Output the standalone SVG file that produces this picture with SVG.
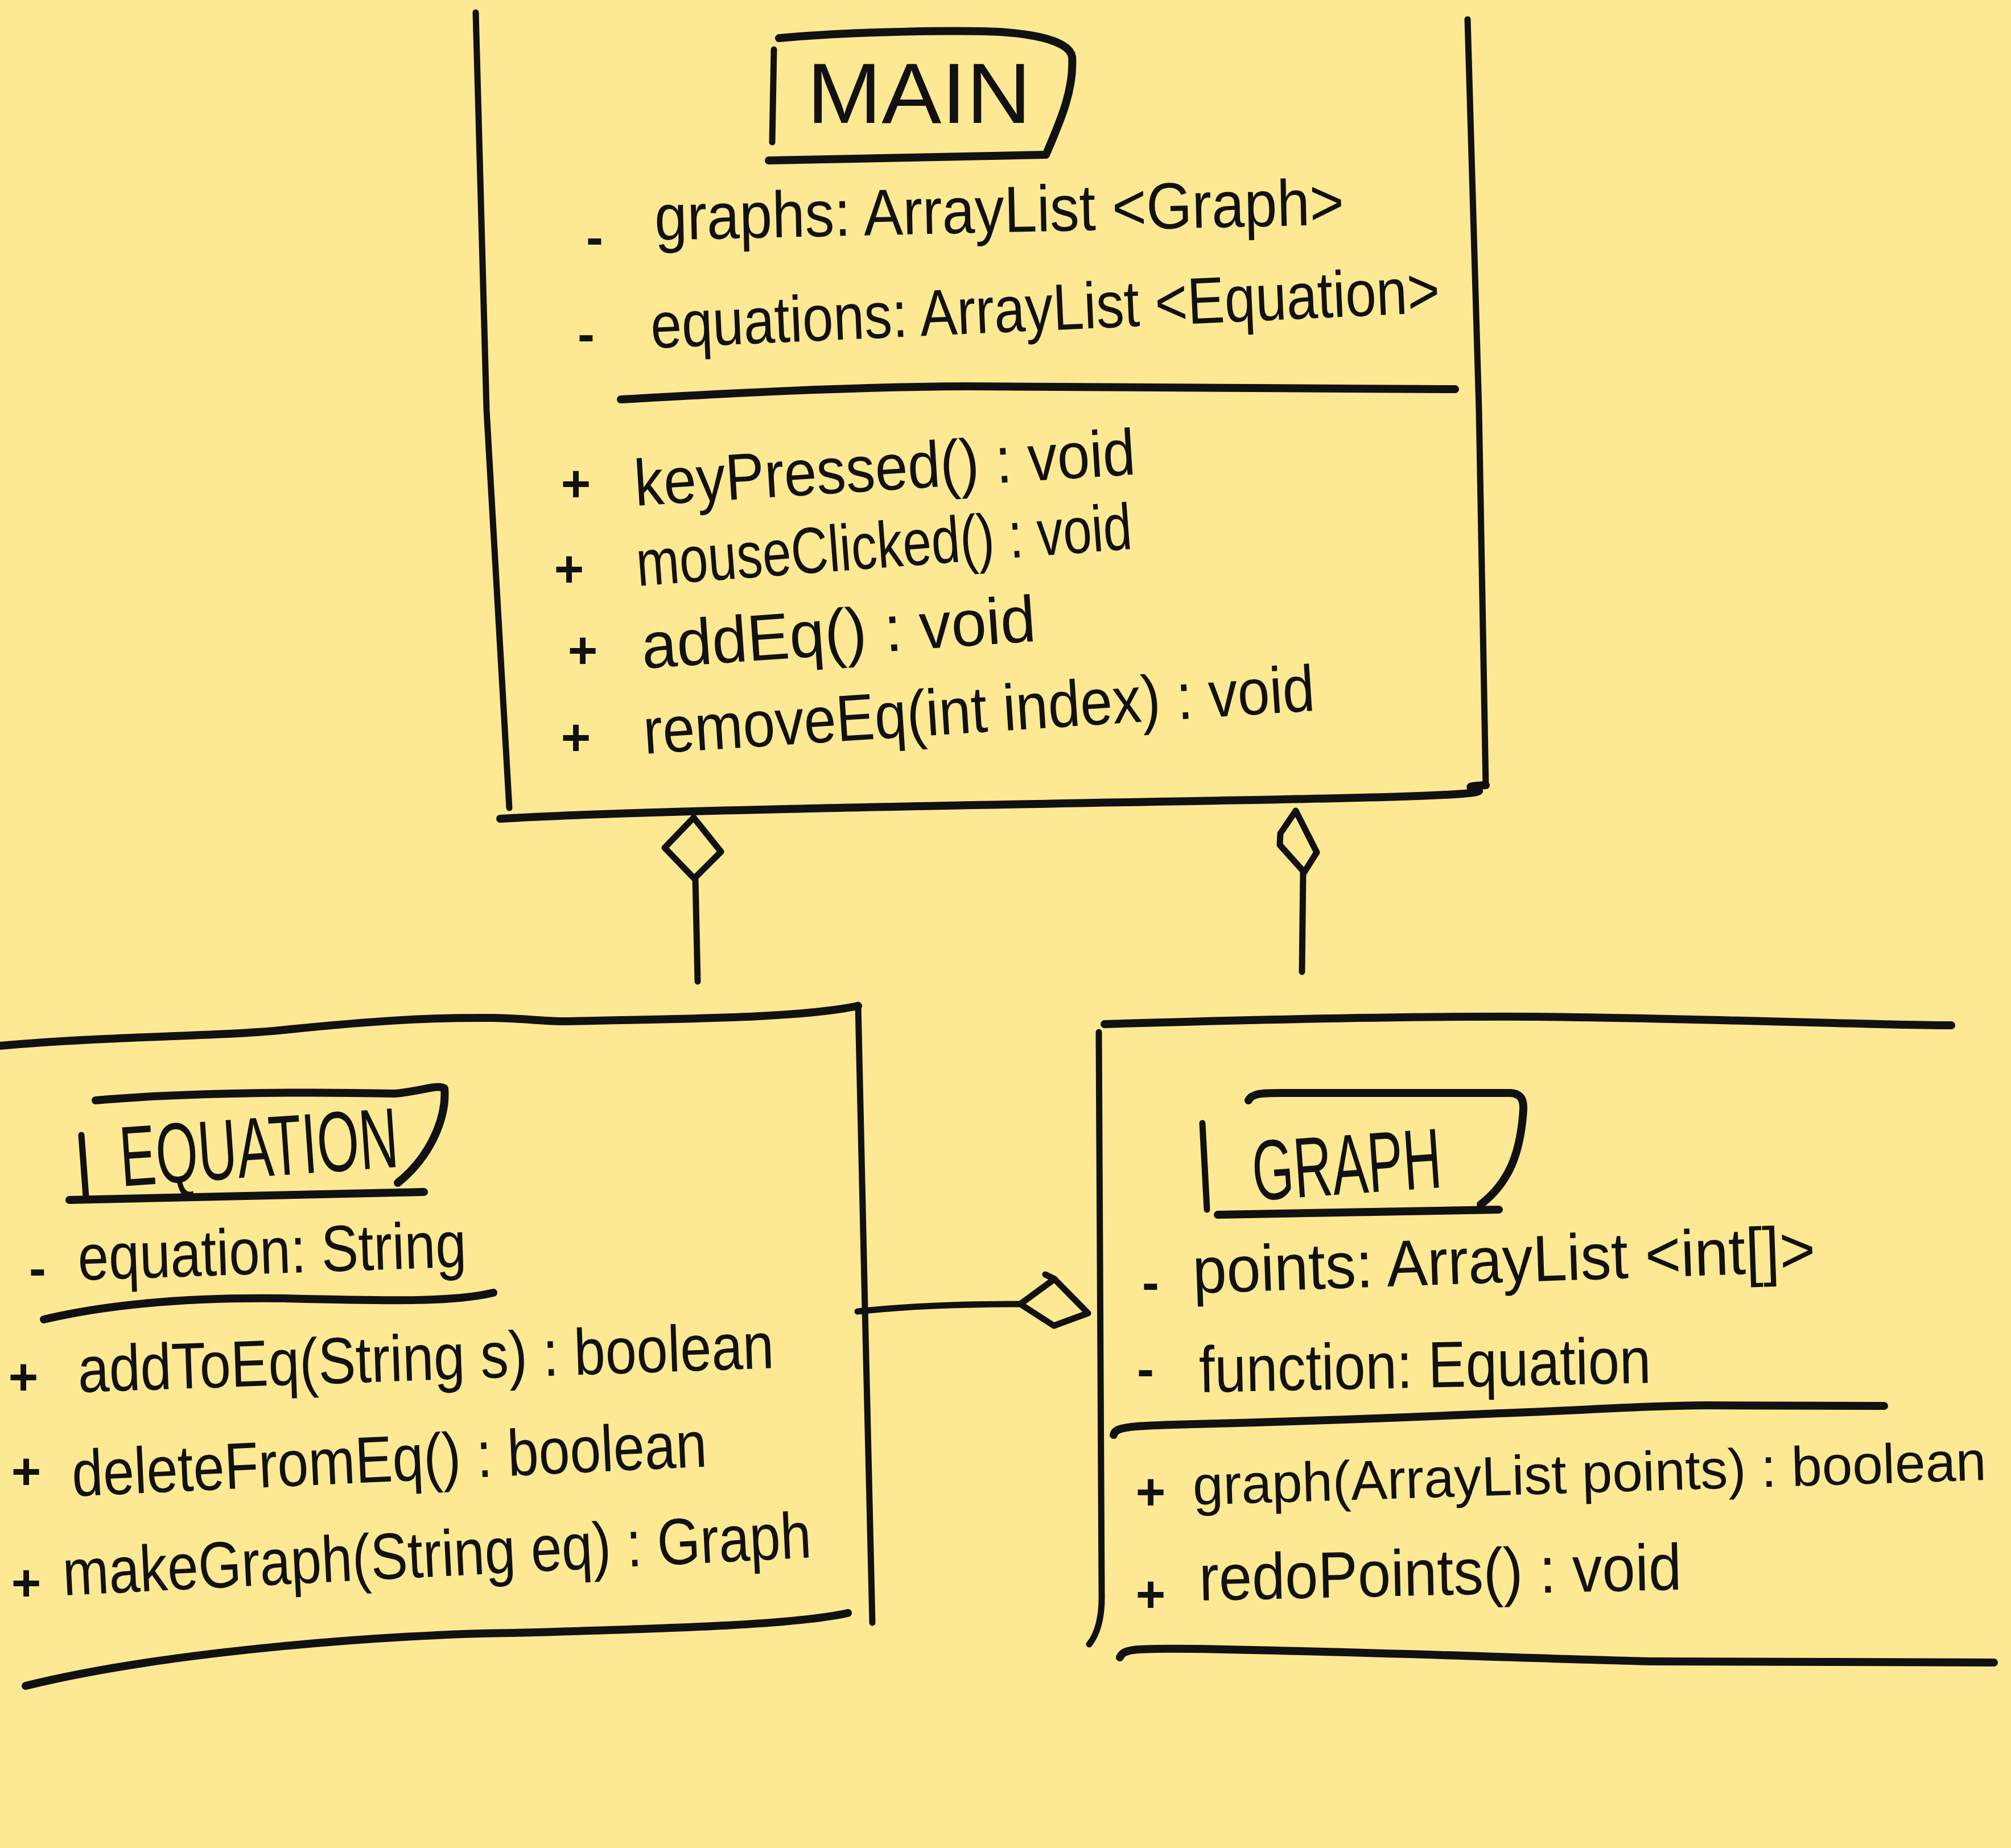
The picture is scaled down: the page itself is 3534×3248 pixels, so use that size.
<svg xmlns="http://www.w3.org/2000/svg" width="3534" height="3248" viewBox="0 0 3534 3248">
<style>
.ln{fill:none;stroke:#111;stroke-width:11;stroke-linecap:round;stroke-linejoin:round}
.tk{fill:none;stroke:#111;stroke-width:14;stroke-linecap:round;stroke-linejoin:round}
.dm{fill:none;stroke:#111;stroke-width:11;stroke-linecap:round;stroke-linejoin:round}
.t{font-family:"Liberation Sans",Arial,sans-serif;fill:#111;font-size:115px}
.ti{font-family:"Liberation Sans",Arial,sans-serif;fill:#111;font-size:150px}
.mk{font-family:"Liberation Sans",Arial,sans-serif;fill:#111;font-size:90px;text-anchor:middle;font-weight:bold}
</style>
<rect x="0" y="0" width="3534" height="3248" fill="#FDE993"/>

<g id="main">
  <path class="ln" d="M836,22 L855,720 L895,1420"/>
  <path class="ln" d="M2579,34 L2599,720 L2611,1381"/>
  <path class="tk" d="M879,1439 C1100,1425 1700,1415 2254,1405 S2500,1385 2611,1380"/>
  <path class="ln" d="M1360,87 L1357,250"/>
  <path class="tk" d="M1369,67 C1500,55 1700,52 1769,57 C1830,62 1880,75 1884,100 C1888,160 1860,220 1838,272"/>
  <path class="tk" d="M1351,282 L1836,272"/>
  <text class="ti" x="1418" y="216" textLength="394" lengthAdjust="spacingAndGlyphs">MAIN</text>
  <text class="mk" x="1045" y="448">-</text>
  <text class="t" x="1151" y="422" textLength="1212" lengthAdjust="spacingAndGlyphs" transform="rotate(-1.3 1151 422)">graphs: ArrayList &lt;Graph&gt;</text>
  <text class="mk" x="1030" y="618">-</text>
  <text class="t" x="1145" y="612" textLength="1388" lengthAdjust="spacingAndGlyphs" transform="rotate(-2.6 1145 612)">equations: ArrayList &lt;Equation&gt;</text>
  <path class="tk" d="M1091,702 C1300,690 1500,680 1700,679 C2000,680 2300,684 2557,684"/>
  <text class="mk" x="1012" y="881">+</text>
  <text class="t" x="1117" y="889" textLength="882" lengthAdjust="spacingAndGlyphs" transform="rotate(-3.6 1117 889)">keyPressed() : void</text>
  <text class="mk" x="1000" y="1031">+</text>
  <text class="t" x="1121" y="1030" textLength="873" lengthAdjust="spacingAndGlyphs" transform="rotate(-4.3 1121 1030)">mouseClicked() : void</text>
  <text class="mk" x="1024" y="1174">+</text>
  <text class="t" x="1130" y="1175" textLength="694" lengthAdjust="spacingAndGlyphs" transform="rotate(-4 1130 1175)">addEq() : void</text>
  <text class="mk" x="1012" y="1327">+</text>
  <text class="t" x="1133" y="1325" textLength="1182" lengthAdjust="spacingAndGlyphs" transform="rotate(-3.7 1133 1325)">removeEq(int index) : void</text>
</g>

<g id="equation">
  <path class="tk" d="M0,1838 C200,1820 400,1822 510,1809 C650,1795 750,1788 867,1789 C930,1790 960,1796 1000,1795 C1200,1790 1400,1790 1508,1768"/>
  <path class="ln" d="M1508,1766 L1520,2300 L1533,2852"/>
  <path class="tk" d="M45,2963 C300,2900 700,2872 900,2870 C1200,2862 1400,2855 1490,2835"/>
  <path class="ln" d="M143,1995 L151,2103"/>
  <path class="tk" d="M168,1934 C300,1922 500,1918 694,1922 C740,1918 770,1905 781,1913 C785,1960 760,2030 699,2079"/>
  <path class="tk" d="M122,2109 L745,2095"/>
  <text class="ti" x="214" y="2085" textLength="490" lengthAdjust="spacingAndGlyphs" transform="rotate(-4 214 2085)">EQUATION</text>
  <text class="mk" x="66" y="2260">-</text>
  <text class="t" x="138" y="2250" textLength="683" lengthAdjust="spacingAndGlyphs" transform="rotate(-2 138 2250)">equation: String</text>
  <path class="tk" d="M77,2319 C200,2290 350,2280 500,2282 C700,2287 800,2288 867,2272"/>
  <text class="mk" x="41" y="2451">+</text>
  <text class="t" x="138" y="2447" textLength="1224" lengthAdjust="spacingAndGlyphs" transform="rotate(-2 138 2447)">addToEq(String s) : boolean</text>
  <text class="mk" x="46" y="2617">+</text>
  <text class="t" x="128" y="2630" textLength="1117" lengthAdjust="spacingAndGlyphs" transform="rotate(-2.7 128 2630)">deleteFromEq() : boolean</text>
  <text class="mk" x="46" y="2813">+</text>
  <text class="t" x="112" y="2804" textLength="1317" lengthAdjust="spacingAndGlyphs" transform="rotate(-2.9 112 2804)">makeGraph(String eq) : Graph</text>
</g>

<g id="graph">
  <path class="tk" d="M1941,1800 C2200,1792 2500,1786 2700,1787 C3000,1790 3300,1802 3429,1802"/>
  <path class="ln" d="M1931,1814 L1936,2800 C1937,2840 1930,2870 1914,2890"/>
  <path class="ln" d="M2113,1974 L2121,2126"/>
  <path class="tk" d="M2194,1934 C2200,1922 2215,1921 2250,1921 L2655,1921 C2670,1922 2678,1930 2677,1950 C2672,2030 2650,2080 2602,2117"/>
  <path class="tk" d="M2140,2135 L2634,2126"/>
  <text class="ti" x="2204" y="2110" textLength="333" lengthAdjust="spacingAndGlyphs" transform="rotate(-4 2204 2110)">GRAPH</text>
  <text class="mk" x="2022" y="2285">-</text>
  <text class="t" x="2097" y="2273" textLength="1095" lengthAdjust="spacingAndGlyphs" transform="rotate(-2 2097 2273)">points: ArrayList &lt;int[]&gt;</text>
  <text class="mk" x="2013" y="2437">-</text>
  <text class="t" x="2108" y="2447" textLength="794" lengthAdjust="spacingAndGlyphs" transform="rotate(-1.2 2108 2447)">function: Equation</text>
  <path class="tk" d="M1957,2522 C1960,2508 1980,2506 2100,2503 C2300,2498 2500,2490 2634,2484 C2800,2478 2900,2470 3000,2470 L3311,2471"/>
  <text class="mk" x="2022" y="2653">+</text>
  <text class="t" x="2097" y="2645" textLength="1395" lengthAdjust="spacingAndGlyphs" style="font-size:98px" transform="rotate(-1.8 2097 2645)">graph(ArrayList points) : boolean</text>
  <text class="mk" x="2022" y="2833">+</text>
  <text class="t" x="2108" y="2813" textLength="848" lengthAdjust="spacingAndGlyphs" transform="rotate(-1.3 2108 2813)">redoPoints() : void</text>
  <path class="tk" d="M1968,2913 C1975,2898 1990,2897 2100,2898 C2400,2903 2700,2915 2900,2920 L3504,2922"/>
</g>

<g id="connectors">
  <path class="dm" d="M1219,1437 L1267,1497 L1220,1544 L1168,1490 Z"/>
  <path class="ln" d="M1222,1544 L1226,1725"/>
  <path class="dm" d="M2277,1425 L2250,1465 L2249,1485 L2292,1533 L2314,1498 Z"/>
  <path class="ln" d="M2290,1533 L2288,1708"/>
  <path class="ln" d="M1507,2305 C1600,2295 1700,2292 1793,2292"/>
  <path class="dm" d="M1793,2292 L1853,2248 L1912,2308 L1852,2330 Z"/>
  <path class="dm" d="M1837,2240 L1853,2248"/>
</g>
</svg>
